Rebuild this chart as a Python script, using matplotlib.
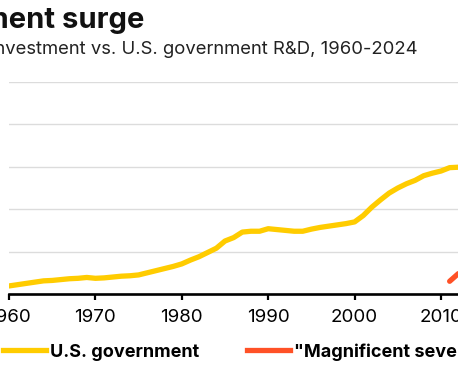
import matplotlib
matplotlib.use("Agg")
import matplotlib.pyplot as plt
from matplotlib.lines import Line2D

gov_years = list(range(1960, 2013))
gov_values = [9.5, 11, 12.5, 14, 15.5, 16, 17, 18, 18.5, 19.5,
              18.5, 19, 20, 21, 21.5, 22.5, 25, 27.5, 30, 32.5,
              35.5, 40, 44, 49, 54, 62.5, 66.5, 73, 74, 74,
              77, 76, 75, 74, 74, 76.5, 78.5, 80, 81.5, 83,
              85, 92.5, 102.5, 111, 119, 125, 130, 134, 139.5, 142.5,
              145, 149, 149.5]

# "Magnificent seven" R&D (billions)
mag7_years = [2011, 2012]
mag7_values = [15, 24]

xticks = [1960, 1970, 1980, 1990, 2000, 2010, 2020]
yticks = [0, 50, 100, 150, 200, 250]

GOLD = "#FFCC00"
ORANGE = "#FF5126"

plt.rcParams['font.family'] = ['Inter', 'DejaVu Sans']

W, H = 458, 382
fig = plt.figure(figsize=(W / 100, H / 100), dpi=100)

# axes run off the right edge of the picture (cropped look)
left, bottom, top = 9, 294, 82
px_per_year = 8.64
width = (2024 - 1960) * px_per_year
ax = fig.add_axes([left / W, (H - bottom) / H, width / W, (bottom - top) / H])

ax.plot(gov_years, gov_values, color=GOLD, lw=3.8, solid_capstyle='round', zorder=3)
ax.plot(mag7_years, mag7_values, color=ORANGE, lw=3.8, solid_capstyle='round', zorder=3)

ax.set_xlim(1960, 2024)
ax.set_ylim(0, 250)
ax.set_xticks(xticks)
ax.set_yticks(yticks)
ax.grid(axis='y', color='#dcdcdc', lw=1)
ax.set_axisbelow(True)
for s in ['top', 'right', 'left']:
    ax.spines[s].set_visible(False)
ax.spines['bottom'].set_linewidth(1.9)
ax.spines['bottom'].set_zorder(4)
ax.tick_params(axis='x', direction='out', length=4, width=1.6, pad=7,
               labelsize=13.5, colors='black')
ax.tick_params(axis='y', length=0, labelleft=False)

# title / subtitle (left part cropped off)
fig.text(144 / W, (H - 28) / H, "ment surge", ha='right', va='baseline',
         fontsize=21, fontweight='bold', color='#111111')
fig.text(418 / W, (H - 54) / H, "investment vs. U.S. government R&D, 1960-2024",
         ha='right', va='baseline', fontsize=13.3, color='#222222')

handles = [Line2D([], [], color=GOLD, lw=3.8),
           Line2D([], [], color=ORANGE, lw=3.8)]
fig.legend(handles, ["U.S. government", '"Magnificent seven"'],
           loc='center left', bbox_to_anchor=(3 / W, (H - 352) / H),
           ncol=2, frameon=False, borderpad=0, borderaxespad=0,
           handlelength=2.4, handletextpad=0.22, columnspacing=2.6,
           prop={'size': 13, 'weight': 'bold'})

fig.savefig("out.png", dpi=100)
